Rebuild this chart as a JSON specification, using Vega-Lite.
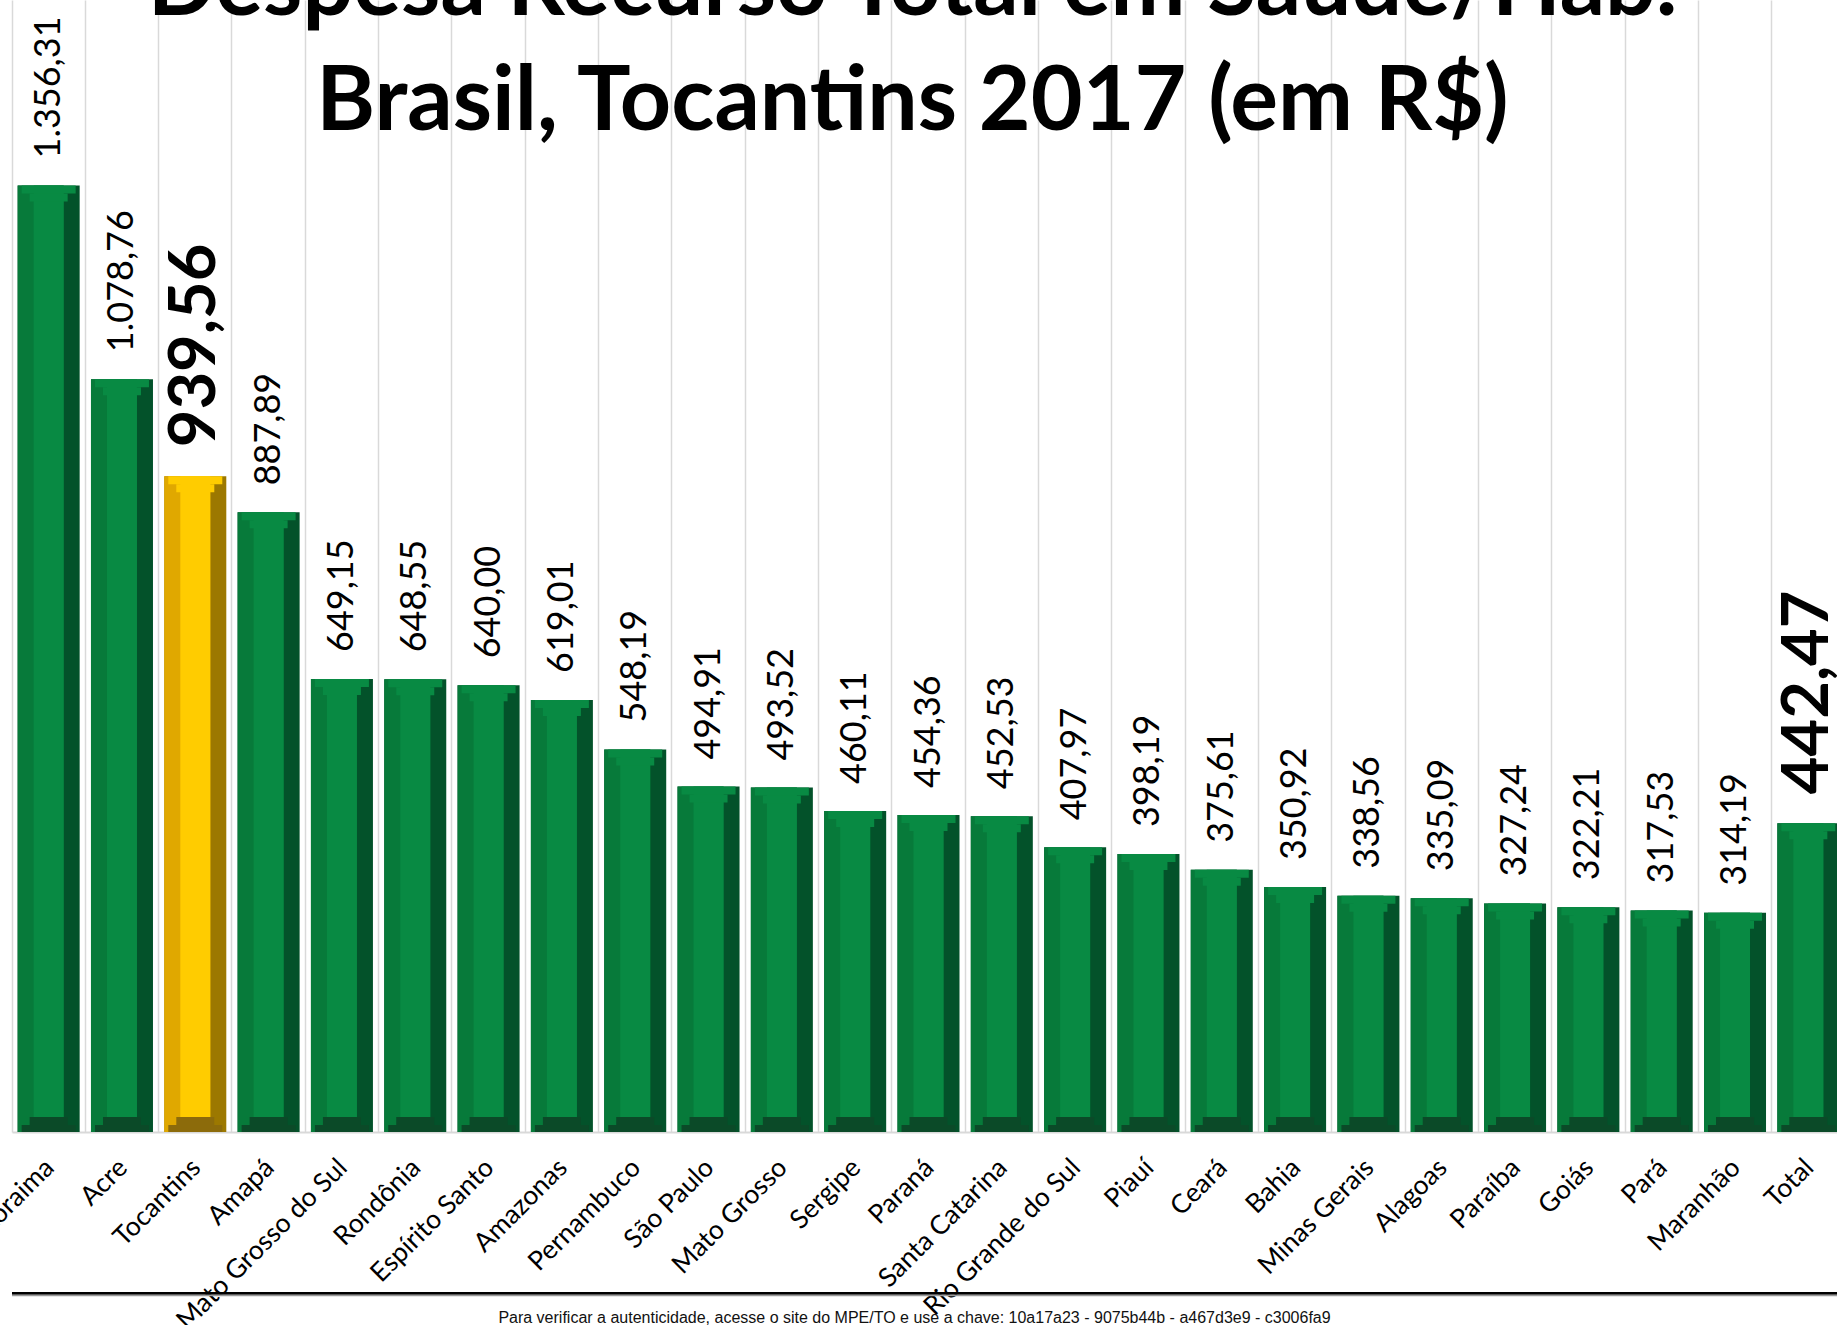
{
  "$schema": "https://vega.github.io/schema/vega-lite/v6.json",
  "width": 1825,
  "height": 1132,
  "autosize": {"type": "none"},
  "padding": {"left": 12, "top": 0, "right": 0, "bottom": 193},
  "background": "white",
  "config": {
    "view": {"stroke": null},
    "locale": {"number": {"decimal": ",", "thousands": ".", "grouping": [3], "currency": ["R$ ", ""]}}
  },
  "title": {
    "text": ["Despesa Recurso Total em Saúde/Hab.", "Brasil, Tocantins 2017 (em R$)"],
    "font": "Lato",
    "fontSize": 89.5,
    "fontWeight": "bold",
    "color": "black",
    "lineHeight": 115,
    "anchor": "middle",
    "baseline": "bottom",
    "offset": -238,
    "dx": -12
  },
  "data": {
    "values": [
      {"estado": "Roraima", "valor": 1356.31},
      {"estado": "Acre", "valor": 1078.76},
      {"estado": "Tocantins", "valor": 939.56},
      {"estado": "Amapá", "valor": 887.89},
      {"estado": "Mato Grosso do Sul", "valor": 649.15},
      {"estado": "Rondônia", "valor": 648.55},
      {"estado": "Espírito Santo", "valor": 640.00},
      {"estado": "Amazonas", "valor": 619.01},
      {"estado": "Pernambuco", "valor": 548.19},
      {"estado": "São Paulo", "valor": 494.91},
      {"estado": "Mato Grosso", "valor": 493.52},
      {"estado": "Sergipe", "valor": 460.11},
      {"estado": "Paraná", "valor": 454.36},
      {"estado": "Santa Catarina", "valor": 452.53},
      {"estado": "Rio Grande do Sul", "valor": 407.97},
      {"estado": "Piauí", "valor": 398.19},
      {"estado": "Ceará", "valor": 375.61},
      {"estado": "Bahia", "valor": 350.92},
      {"estado": "Minas Gerais", "valor": 338.56},
      {"estado": "Alagoas", "valor": 335.09},
      {"estado": "Paraíba", "valor": 327.24},
      {"estado": "Goiás", "valor": 322.21},
      {"estado": "Pará", "valor": 317.53},
      {"estado": "Maranhão", "valor": 314.19},
      {"estado": "Total", "valor": 442.47}
    ]
  },
  "layer": [
    {
      "mark": {"type": "bar", "width": 62},
      "encoding": {
        "x": {
          "field": "estado", "type": "nominal", "sort": null,
          "scale": {"range": [0, 1833], "paddingInner": 0, "paddingOuter": 0},
          "axis": {
            "title": "Para verificar a autenticidade, acesse o site do MPE/TO e use a chave: 10a17a23 - 9075b44b - a467d3e9 - c3006fa9",
            "titleFont": "Liberation Sans",
            "titleFontSize": 16,
            "titleFontWeight": "normal",
            "titleColor": "#111111",
            "titleX": 902,
            "titleY": 190,
            "titleAlign": "center",
            "titleBaseline": "alphabetic",
            "labelAngle": -45,
            "labelFont": "Lato",
            "labelFontSize": 26.5,
            "labelColor": "black",
            "labelPadding": 22,
            "labelOffset": -8,
            "labelOverlap": false,
            "labelLimit": 0,
            "ticks": false,
            "bandPosition": 0,
            "grid": true,
            "gridColor": "#d9d9d9",
            "gridWidth": 1.5,
            "domainColor": "#d9d9d9",
            "domainWidth": 2
          }
        },
        "y": {"field": "valor", "type": "quantitative", "scale": {"domain": [0, 1622], "nice": false}, "axis": null},
        "color": {"condition": {"test": "datum.estado === 'Tocantins'", "value": "#9c7800"}, "value": "#03522a"}
      }
    },
    {
      "mark": {"type": "bar", "width": 46, "xOffset": -8},
      "encoding": {
        "x": {"field": "estado", "type": "nominal", "sort": null},
        "y": {"field": "valor", "type": "quantitative", "scale": {"domain": [0, 1622], "nice": false}, "axis": null},
        "color": {"condition": {"test": "datum.estado === 'Tocantins'", "value": "#e0a800"}, "value": "#077a3a"}
      }
    },
    {
      "mark": {"type": "bar", "width": 30},
      "encoding": {
        "x": {"field": "estado", "type": "nominal", "sort": null},
        "y": {"field": "valor", "type": "quantitative", "scale": {"domain": [0, 1622], "nice": false}, "axis": null},
        "color": {"condition": {"test": "datum.estado === 'Tocantins'", "value": "#ffcc00"}, "value": "#088a43"}
      }
    },
    {
      "mark": {"type": "bar", "width": 54, "y2Offset": 8},
      "encoding": {
        "x": {"field": "estado", "type": "nominal", "sort": null},
        "y": {"field": "valor", "type": "quantitative", "scale": {"domain": [0, 1622], "nice": false}, "axis": null},
        "y2": {"field": "valor"},
        "color": {"condition": {"test": "datum.estado === 'Tocantins'", "value": "#ffcc00"}, "value": "#088a43"}
      }
    },
    {
      "mark": {"type": "bar", "width": 38, "yOffset": 8, "y2Offset": 16},
      "encoding": {
        "x": {"field": "estado", "type": "nominal", "sort": null},
        "y": {"field": "valor", "type": "quantitative", "scale": {"domain": [0, 1622], "nice": false}, "axis": null},
        "y2": {"field": "valor"},
        "color": {"condition": {"test": "datum.estado === 'Tocantins'", "value": "#ffcc00"}, "value": "#088a43"}
      }
    },
    {
      "mark": {"type": "bar", "width": 54, "yOffset": -7},
      "encoding": {
        "x": {"field": "estado", "type": "nominal", "sort": null},
        "y": {"datum": 0, "type": "quantitative", "scale": {"domain": [0, 1622], "nice": false}, "axis": null},
        "y2": {"datum": 0},
        "color": {"condition": {"test": "datum.estado === 'Tocantins'", "value": "#8c6b0b"}, "value": "#0b4a28"}
      }
    },
    {
      "mark": {"type": "bar", "width": 38, "yOffset": -15, "y2Offset": -7},
      "encoding": {
        "x": {"field": "estado", "type": "nominal", "sort": null},
        "y": {"datum": 0, "type": "quantitative", "scale": {"domain": [0, 1622], "nice": false}, "axis": null},
        "y2": {"datum": 0},
        "color": {"condition": {"test": "datum.estado === 'Tocantins'", "value": "#8c6b0b"}, "value": "#0b4a28"}
      }
    },
    {
      "transform": [{"filter": "datum.estado !== 'Tocantins' && datum.estado !== 'Total'"}],
      "mark": {"type": "text", "font": "Lato", "fontSize": 36, "angle": 270, "align": "left", "baseline": "middle", "yOffset": -27, "color": "black"},
      "encoding": {
        "x": {"field": "estado", "type": "nominal", "sort": null},
        "y": {"field": "valor", "type": "quantitative", "scale": {"domain": [0, 1622], "nice": false}, "axis": null},
        "text": {"field": "valor", "type": "quantitative", "format": ",.2f"}
      }
    },
    {
      "transform": [{"filter": "datum.estado === 'Tocantins' || datum.estado === 'Total'"}],
      "mark": {"type": "text", "font": "Lato", "fontSize": 65, "fontWeight": "bold", "angle": 270, "align": "left", "baseline": "middle", "yOffset": -29, "color": "black"},
      "encoding": {
        "x": {"field": "estado", "type": "nominal", "sort": null},
        "y": {"field": "valor", "type": "quantitative", "scale": {"domain": [0, 1622], "nice": false}, "axis": null},
        "text": {"field": "valor", "type": "quantitative", "format": ",.2f"}
      }
    },
    {
      "data": {"values": [{}]},
      "mark": {"type": "rule", "color": "#9a9a9a", "strokeWidth": 2, "yOffset": 2},
      "encoding": {
        "y": {"datum": -231, "type": "quantitative", "scale": {"domain": [0, 1622], "nice": false}, "axis": null}
      }
    },
    {
      "data": {"values": [{}]},
      "mark": {"type": "rule", "color": "black", "strokeWidth": 2.5},
      "encoding": {
        "y": {"datum": -231, "type": "quantitative", "scale": {"domain": [0, 1622], "nice": false}, "axis": null}
      }
    }
  ]
}
